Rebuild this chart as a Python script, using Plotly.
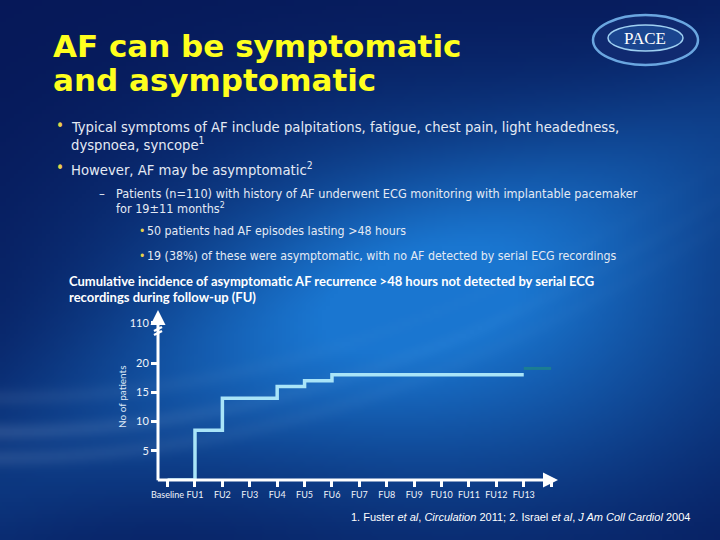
import base64, struct, zlib
import numpy as np
import plotly.graph_objects as go

# ---------------- data ----------------
categories = ["Baseline", "FU1", "FU2", "FU3", "FU4", "FU5", "FU6", "FU7",
              "FU8", "FU9", "FU10", "FU11", "FU12", "FU13"]
cum_patients = [0, 8.5, 14, 14, 16, 17, 18, 18, 18, 18, 18, 18, 18, 18]
final_value = [19.1, 19.1]
y_tick_values = [5, 10, 15, 20]
y_tick_labels = ["5", "10", "15", "20"]
y_break_label = "110"

# ---------------- layout constants ----------------
W, H = 720, 540
X_RANGE = [-0.35, 14.25]
Y_RANGE = [0, 29.1]
Y_BREAK_POS = 26.9


def px(x):
    return x / W


def py(y):
    return 1 - y / H


# ---------------- background image (decorative) ----------------
def background_png():
    bw, bh = 180, 135
    xs = (np.arange(bw) + 0.5) * W / bw
    ys = (np.arange(bh) + 0.5) * H / bh
    X, Y = np.meshgrid(xs, ys)
    base = np.array([6, 24, 88], dtype=float)
    glow = np.array([26, 118, 208], dtype=float)
    d = ((X - 450) / 420) ** 2 + ((Y - 320) / 250) ** 2
    g = np.exp(-d * 1.7)
    band = np.exp(-((Y - (470 - 330 * X / W)) / 110) ** 2)
    t = np.clip(0.85 * g + 0.28 * band, 0, 1)
    img = base + (glow - base) * t[..., None]
    # faint light streaks lower-left
    for y0, amp in ((432, 0.12), (458, 0.10), (398, 0.07)):
        cy = y0 - 0.00045 * X ** 2
        s = np.exp(-((Y - cy) / 9) ** 2) * np.exp(-X / 330) * amp
        img = img + (np.array([230, 240, 255]) - img) * s[..., None]
    img = np.clip(img, 0, 255).astype(np.uint8)
    raw = b"".join(b"\x00" + img[r].tobytes() for r in range(bh))

    def chunk(tag, data):
        c = struct.pack(">I", len(data)) + tag + data
        return c + struct.pack(">I", zlib.crc32(tag + data) & 0xFFFFFFFF)

    png = b"\x89PNG\r\n\x1a\n" + chunk(b"IHDR", struct.pack(">IIBBBBB", bw, bh, 8, 2, 0, 0, 0))
    png += chunk(b"IDAT", zlib.compress(raw, 9)) + chunk(b"IEND", b"")
    return "data:image/png;base64," + base64.b64encode(png).decode()


x_idx = list(range(len(categories)))
x_final = [len(categories) - 1, len(categories)]

fig = go.Figure()
fig.add_trace(go.Scatter(x=x_idx, y=cum_patients, mode="lines",
                         line=dict(color="#a9e4f8", width=3.5, shape="hv"),
                         hoverinfo="skip", showlegend=False))
fig.add_trace(go.Scatter(x=x_final, y=final_value, mode="lines",
                         line=dict(color="rgba(28,130,140,0.85)", width=3),
                         hoverinfo="skip", showlegend=False))

TEXT_FONT = "Liberation Sans Narrow, DejaVu Sans Condensed, Arial Narrow, sans-serif"
CAL_FONT = "Lato, Open Sans, sans-serif"
TXT_COL = "#e4eaf4"
BUL_COL = "#e8d24a"

fig.update_layout(
    width=W, height=H,
    margin=dict(l=0, r=0, t=0, b=0, autoexpand=False),
    paper_bgcolor="#0a2f86",
    plot_bgcolor="rgba(0,0,0,0)",
    showlegend=False,
    images=[dict(source=background_png(), xref="paper", yref="paper",
                 x=0, y=1, sizex=1, sizey=1, sizing="stretch",
                 xanchor="left", yanchor="top", layer="below")],
    xaxis=dict(domain=[px(158), px(558)], range=X_RANGE, showgrid=False,
               zeroline=False, showline=False, tickangle=0, automargin=False,
               tickmode="array", tickvals=list(range(len(categories) + 1)),
               ticktext=categories + [""],
               ticks="outside", ticklen=6, tickwidth=3, tickcolor="white",
               tickfont=dict(family=CAL_FONT, size=9, color="#f0f4fa")),
    yaxis=dict(domain=[py(480), py(310)], range=Y_RANGE, showgrid=False,
               zeroline=False, showline=False, automargin=False,
               tickmode="array", tickvals=y_tick_values + [Y_BREAK_POS],
               ticktext=y_tick_labels + [y_break_label],
               ticks="outside", ticklen=6, tickwidth=3, tickcolor="white",
               tickfont=dict(family=CAL_FONT, size=11, color="#f0f4fa")),
)

ann = []
# axis arrows
ann.append(dict(x=X_RANGE[1], y=0, ax=X_RANGE[0] - 0.06, ay=0, xref="x", yref="y",
                axref="x", ayref="y", showarrow=True, arrowhead=2, arrowsize=1,
                arrowwidth=3, arrowcolor="white", text=""))
ann.append(dict(x=X_RANGE[0], y=Y_RANGE[1], ax=X_RANGE[0], ay=-0.3, xref="x", yref="y",
                axref="x", ayref="y", showarrow=True, arrowhead=2, arrowsize=1,
                arrowwidth=3, arrowcolor="white", text=""))

# title
for yy, s in ((46, "<b>AF can be symptomatic</b>"), (80, "<b>and asymptomatic</b>")):
    ann.append(dict(x=px(51), y=py(yy), xref="paper", yref="paper", xanchor="left",
                    yanchor="middle", showarrow=False, text=s,
                    font=dict(family="DejaVu Sans", size=31, color="#ffff1e")))


def text(x, y, s, size, family=TEXT_FONT, color=TXT_COL, anchor="left"):
    ann.append(dict(x=px(x), y=py(y), xref="paper", yref="paper", xanchor=anchor,
                    yanchor="middle", showarrow=False, text=s,
                    font=dict(family=family, size=size, color=color)))


text(54, 126, "•", 15, color=BUL_COL)
text(69, 127, "Typical symptoms of AF include palpitations, fatigue, chest pain, light headedness,", 14.7)
text(69, 144, "dyspnoea, syncope<sup>1</sup>", 14.7)
text(54, 168, "•", 15, color=BUL_COL)
text(69, 169, "However, AF may be asymptomatic<sup>2</sup>", 14.7)
text(97, 193, "–", 13)
text(114, 193, "Patients (n=110) with history of AF underwent ECG monitoring with implantable pacemaker", 12.6)
text(114, 208, "for 19±11 months<sup>2</sup>", 12.6)
text(137, 231, "•", 12, color=BUL_COL)
text(145, 231, "50 patients had AF episodes lasting >48 hours", 12.3)
text(137, 256, "•", 12, color=BUL_COL)
text(145, 256, "19 (38%) of these were asymptomatic, with no AF detected by serial ECG recordings", 12.3)

text(67, 281, "<b>Cumulative incidence of asymptomatic AF recurrence >48 hours not detected by serial ECG</b>",
     13, family=CAL_FONT, color="white")
text(67, 297, "<b>recordings during follow-up (FU)</b>", 13, family=CAL_FONT, color="white")

# y axis title
ann.append(dict(x=px(122), y=py(397), xref="paper", yref="paper", xanchor="center",
                yanchor="middle", showarrow=False, textangle=-90,
                text="No of patients",
                font=dict(family=CAL_FONT, size=10, color="#dde8f6")))

# footnote
text(349, 517, "1. Fuster <i>et al</i>, <i>Circulation</i> 2011; 2. Israel <i>et al</i>, <i>J Am Coll Cardiol</i> 2004",
     11, family="Liberation Sans, sans-serif", color="white")

# logo text
ann.append(dict(x=px(645), y=py(38), xref="paper", yref="paper", xanchor="center",
                yanchor="middle", showarrow=False, text="PACE",
                font=dict(family="Liberation Serif, DejaVu Serif, serif", size=17, color="white")))

fig.update_layout(annotations=ann)

shapes = [
    # logo
    dict(type="circle", xref="paper", yref="paper", x0=px(593), x1=px(698), y0=py(65), y1=py(15),
         fillcolor="#102a70", line=dict(color="#6aa6e0", width=2.5), layer="above"),
    dict(type="circle", xref="paper", yref="paper", x0=px(608), x1=px(683), y0=py(51), y1=py(25),
         fillcolor="#1a458f", line=dict(color="#9fd0f2", width=1.5), layer="above"),
    # axis break mark
    dict(type="line", xref="paper", yref="paper", x0=px(154), x1=px(162), y0=py(335), y1=py(331),
         line=dict(color="white", width=2.5)),
    dict(type="line", xref="paper", yref="paper", x0=px(154), x1=px(162), y0=py(331), y1=py(327),
         line=dict(color="white", width=2.5)),
]
fig.update_layout(shapes=shapes)

fig.write_html("out.html", config={"displayModeBar": False},
               post_script="document.body.style.margin='0';document.body.style.overflow='hidden';")
